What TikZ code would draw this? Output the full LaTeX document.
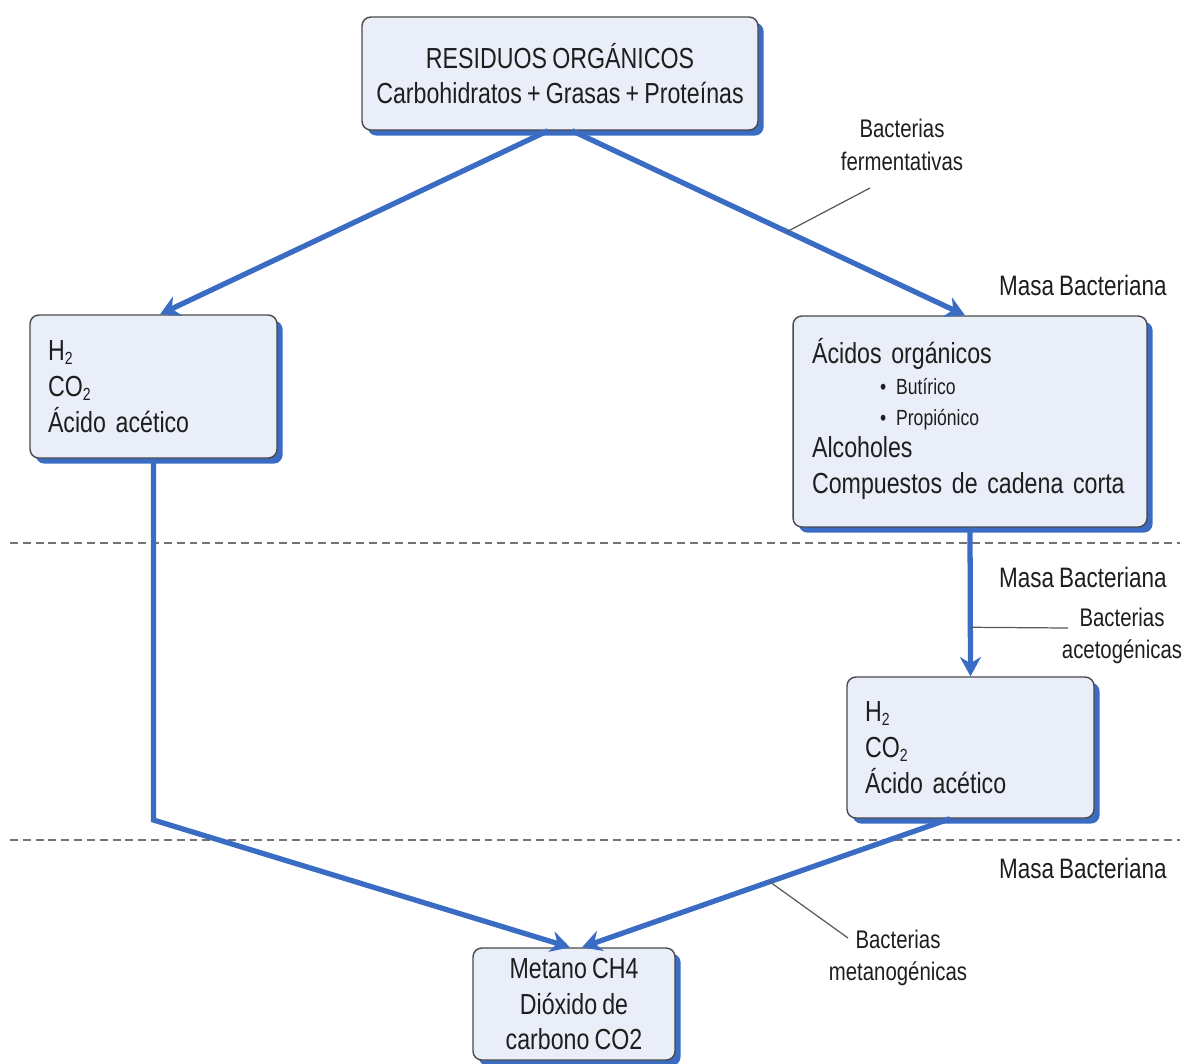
\documentclass[tikz,border=0pt]{standalone}
\usepackage{fontspec}
\setmainfont{Liberation Sans}[FakeStretch=0.8, WordSpace=0.8]
\usetikzlibrary{arrows.meta,shadows,calc}
\definecolor{flowblue}{HTML}{3A6CC4}
\definecolor{boxfill}{HTML}{E9EEF8}
\definecolor{boxline}{HTML}{4A4A4A}
\definecolor{txt}{HTML}{1E1E1E}
\newcommand{\chsub}[1]{\raisebox{-0.25ex}{\fontsize{10}{10}\selectfont #1}}
\begin{document}
\begin{tikzpicture}[x=0.02cm,y=-0.02cm,
 box/.style={draw=boxline, line width=0.8pt, fill=boxfill, rounded corners=5pt,
   general shadow={fill=flowblue, shadow xshift=3.2pt, shadow yshift=-3.2pt},
   text=txt, font=\fontsize{16.5}{20.4}\selectfont, inner sep=0pt},
 flow/.style={draw=flowblue, line width=3pt, -{Stealth[length=11pt,width=12pt]}},
 leader/.style={draw=black!65, line width=0.7pt},
 lbl/.style={text=txt, font=\fontsize{14.5}{18.6}\selectfont, align=center, inner sep=0pt},
 masa/.style={text=txt, font=\fontsize{16}{19}\selectfont, anchor=east, inner sep=0pt},
 dline/.style={draw=black!55, line width=1.3pt, dash pattern=on 4.5pt off 2.8pt}]
\useasboundingbox (0,0) rectangle (1189,1063);
% dashed separators
\draw[dline] (10,543) -- (1180,543);
\draw[dline] (10,840) -- (1180,840);
% boxes
\node[box, minimum width=7.92cm, minimum height=2.26cm, align=center] (top) at (560,73.5)
  {RESIDUOS ORGÁNICOS\\Carbohidratos + Grasas + Proteínas};
\node[box, align=left, text width=4.22cm, inner xsep=0.36cm, minimum height=2.86cm] (left) at (153.5,386.5)
  {H\chsub{2}\\CO\chsub{2}\\Ácido acético};
\node[box, align=left, text width=6.32cm, inner xsep=0.38cm, minimum height=4.22cm] (right) at (970,421.5)
  {Ácidos orgánicos\\[-2.7pt]
   {\fontsize{12.5}{16}\selectfont\hspace*{1.36cm}\textbullet\hspace{0.2cm}Butírico}\\[-3.3pt]
   {\fontsize{12.5}{16}\selectfont\hspace*{1.36cm}\textbullet\hspace{0.2cm}Propiónico}\\[-2.1pt]
   Alcoholes\\
   Compuestos de cadena corta\\[-14pt]\mbox{}};
\node[box, align=left, text width=4.22cm, inner xsep=0.36cm, minimum height=2.82cm] (mid) at (970.5,747.5)
  {H\chsub{2}\\CO\chsub{2}\\Ácido acético};
\node[box, align=center, minimum width=4.04cm, minimum height=2.24cm] (bot) at (574,1004)
  {Metano CH4\\Dióxido de\\carbono CO2};
% labels
\node[lbl] (ferm) at (902,145) {Bacterias\\fermentativas};
\node[lbl] (acet) at (1122,636) {Bacterias\\acetogénicas};
\node[lbl] (meta) at (898,958) {Bacterias\\metanogénicas};
\node[masa] (masa1) at (1167,285) {Masa Bacteriana};
\node[masa] (masa2) at (1167,577) {Masa Bacteriana};
\node[masa] (masa3) at (1167,868) {Masa Bacteriana};
% flows
\coordinate (lbend) at (153.5,820);
\draw[flow] ([xshift=-0.24cm]top.south) -- ([xshift=0.13cm]left.north);
\draw[flow] ([xshift=0.24cm]top.south) -- coordinate[pos=0.547](fermpt) ([xshift=-0.1cm]right.north);
\draw[flow] (left.south) -- (lbend) -- ([xshift=-0.08cm]bot.north);
\draw[flow] (right.south) -- coordinate[pos=0.67](acetpt) (mid.north);
\draw[flow] ([xshift=-0.41cm]mid.south) -- coordinate[pos=0.49](metpt) ([xshift=0.16cm]bot.north);
% leaders
\coordinate (fermend) at (870,188);
\coordinate (acetend) at (1068,628);
\coordinate (metend) at (848,938);
\draw[leader] (fermpt) -- (fermend);
\draw[leader] (acetpt) -- (acetend);
\draw[leader] (metpt) -- (metend);
\end{tikzpicture}
\end{document}
